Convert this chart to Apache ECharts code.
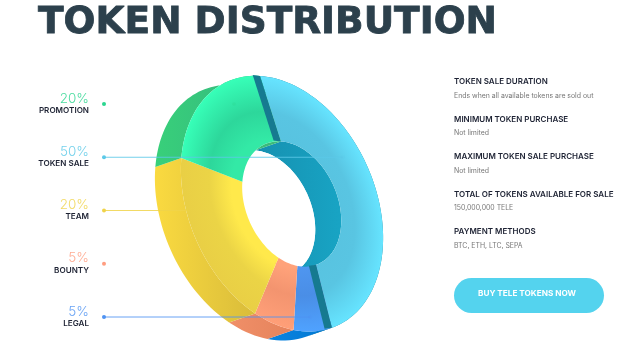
<!DOCTYPE html>
<html><head><meta charset="utf-8">
<style>html,body{margin:0;padding:0;background:#fff}#c{width:640px;height:358px}</style>
<script src="https://cdn.jsdelivr.net/npm/echarts@6/dist/echarts.min.js"></script>
</head><body><div id="c"></div>
<script>
const titleText = 'TOKEN DISTRIBUTION';
const categories = ['PROMOTION', 'TOKEN SALE', 'TEAM', 'BOUNTY', 'LEGAL'];
const percents = [20, 50, 20, 5, 5];
const legendColors = ['#2bd68f', '#5cc9e8', '#f0d34a', '#ff9d80', '#4f93f2'];
const sliceOrder = [1, 4, 3, 2, 0];
const infoTitles = ['TOKEN SALE DURATION', 'MINIMUM TOKEN PURCHASE', 'MAXIMUM TOKEN SALE PURCHASE', 'TOTAL OF TOKENS AVAILABLE FOR SALE', 'PAYMENT METHODS'];
const infoValues = ['Ends when all available tokens are sold out', 'Not limited', 'Not limited', '150,000,000 TELE', 'BTC, ETH, LTC, SEPA'];
const buttonText = 'BUY TELE TOKENS NOW';

/* projection of the tilted ring */
const C = [282, 203.7], H = [291.7, 204], RATIO = 0.49, DEPTH = [-26, 9];
const A1 = [-22, -127.7], A2 = [98.7, 6.5];
const WARP = [[0, 0], [180, 163], [198, 186], [216, 208], [288, 288], [360, 360]];
function warp(deg) {
  for (let i = 1; i < WARP.length; i++) {
    if (deg <= WARP[i][0]) {
      const p = WARP[i - 1], q = WARP[i];
      return p[1] + (deg - p[0]) / (q[0] - p[0]) * (q[1] - p[1]);
    }
  }
  return deg;
}
function outer(deg, d) {
  const t = warp(deg) * Math.PI / 180, c = Math.cos(t), s = Math.sin(t), o = d || [0, 0];
  return [C[0] + A1[0] * c + A2[0] * s + o[0], C[1] + A1[1] * c + A2[1] * s + o[1]];
}
function inner(deg, d) {
  const t = warp(deg) * Math.PI / 180, c = Math.cos(t), s = Math.sin(t), o = d || [0, 0];
  return [H[0] + RATIO * (A1[0] * c + A2[0] * s) + o[0], H[1] + RATIO * (A1[1] * c + A2[1] * s) + o[1]];
}
function arc(fn, a, b, d) {
  const pts = [], n = Math.max(4, Math.ceil(Math.abs(b - a) / 2));
  for (let i = 0; i <= n; i++) pts.push(fn(a + (b - a) * i / n, d));
  return pts;
}
/* eigen-frame of the outer ellipse, for elliptical shading */
const mxx = A1[0] * A1[0] + A2[0] * A2[0], myy = A1[1] * A1[1] + A2[1] * A2[1], mxy = A1[0] * A1[1] + A2[0] * A2[1];
const theta = 0.5 * Math.atan2(2 * mxy, mxx - myy);
const root = Math.sqrt((mxx - myy) * (mxx - myy) / 4 + mxy * mxy);
const semiA = Math.sqrt((mxx + myy) / 2 + root), semiB = Math.sqrt((mxx + myy) / 2 - root);
const cT = Math.cos(theta), sT = Math.sin(theta);
function toLocal(p) {
  const x = p[0] - C[0], y = p[1] - C[1];
  return [(x * cT + y * sT) / semiA, (-x * sT + y * cT) / semiB];
}
function stops(a, b, c) {
  return { type: 'radial', x: 0, y: 0, r: 1, global: true, colorStops: [
    { offset: 0, color: a }, { offset: 0.5, color: a }, { offset: 0.72, color: b }, { offset: 1, color: c }] };
}
const faceFill = {
  'TOKEN SALE': stops('#58c3e0', '#59c5e2', '#66e4ff'),
  'LEGAL': stops('#4f96f0', '#4a8ee6', '#4fa2ff'),
  'BOUNTY': stops('#ffa27a', '#f3946f', '#ff9f78'),
  'TEAM': stops('#ffe94b', '#ebd446', '#e9cf45'),
  'PROMOTION': stops('#33e9a6', '#2dd79b', '#37ffb8')
};
const sideFill = {
  'TOKEN SALE': ['#1a7d92', '#1a7d92'],
  'LEGAL': ['#0b84e2', '#0077d0'],
  'BOUNTY': ['#f08f68', '#e5835c'],
  'TEAM': ['#fada40', '#d9bc3a'],
  'PROMOTION': ['#38d07a', '#36b680']
};
const wallFill = {
  'TOKEN SALE': ['#1690b0', '#18a4c4'],
  'LEGAL': ['#18a4c4', '#18a4c4'],
  'BOUNTY': ['#18a4c4', '#18a4c4'],
  'TEAM': ['#d9bc3a', '#d9bc3a'],
  'PROMOTION': ['#3dbb7a', '#3dbb7a']
};
const BAND = '#167a90';

/* [start, end, category index] in degrees, clockwise from the top of the ring */
let acc = 0;
const sliceRows = sliceOrder.map(i => {
  const s = acc; acc += percents[i];
  return [s * 3.6, acc * 3.6, i];
});
const legendRows = categories.map((n, i) => [i]);

function linear(pair) {
  return { type: 'linear', x: 0, y: 0, x2: 1, y2: 0, colorStops: [{ offset: 0, color: pair[0] }, { offset: 1, color: pair[1] }] };
}
function renderSide(params, api) {
  const a = api.value(0), b = api.value(1), name = categories[api.value(2)];
  const pts = arc(outer, a, b).concat(arc(outer, b, a, DEPTH));
  return { type: 'polygon', shape: { points: pts }, style: { fill: linear(sideFill[name]) } };
}
function renderWall(params, api) {
  const a = api.value(0), b = api.value(1), name = categories[api.value(2)];
  const pts = arc(inner, a, b).concat(arc(inner, b, a, DEPTH));
  return { type: 'polygon', shape: { points: pts }, style: { fill: linear(wallFill[name]) } };
}
function renderHole(params, api) {
  return { type: 'polygon', shape: { points: arc(inner, 0, 360, DEPTH) }, style: { fill: '#ffffff' } };
}
function renderFace(params, api) {
  const a = api.value(0), b = api.value(1), name = categories[api.value(2)];
  const pts = arc(outer, a, b).concat(arc(inner, b, a)).map(toLocal);
  return { type: 'polygon', x: C[0], y: C[1], rotation: -theta, scaleX: semiA, scaleY: semiB,
    shape: { points: pts }, style: { fill: faceFill[name] } };
}
function renderBand(params, api) {
  const a = api.value(0), b = api.value(1);
  if (categories[api.value(2)] !== 'TOKEN SALE') return null;
  const topOff = [-7.3, -1], botOff = [-7.3, 1];
  return { type: 'group', children: [
    { type: 'polygon', shape: { points: [outer(a), inner(a), inner(a, topOff), outer(a, topOff)] }, style: { fill: BAND } },
    { type: 'polygon', shape: { points: [outer(b), inner(b), inner(b, botOff), outer(b, botOff)] }, style: { fill: BAND } }
  ] };
}
const LEADER_END = { 'TOKEN SALE': 343, 'TEAM': 187, 'LEGAL': 310, 'PROMOTION': 234, 'BOUNTY': 277 };
const HAS_LINE = { 'TOKEN SALE': 1, 'TEAM': 1, 'LEGAL': 1 };
function renderLegend(params, api) {
  const i = api.value(0), name = categories[i], col = legendColors[i];
  const y = 104 + i * 53.25;
  const kids = [];
  if (HAS_LINE[name]) {
    kids.push({ type: 'line', shape: { x1: 104, y1: y, x2: LEADER_END[name], y2: y }, style: { stroke: col, lineWidth: 1, opacity: 0.85 } });
  }
  kids.push({ type: 'circle', shape: { cx: LEADER_END[name], cy: y, r: 1.8 }, style: { fill: col, opacity: 0.3 } });
  kids.push({ type: 'circle', shape: { cx: 104, cy: y, r: 2 }, style: { fill: col } });
  kids.push({ type: 'text', style: { x: 89, y: y - 5.5, text: percents[i] + '%', align: 'right', verticalAlign: 'middle', fill: col, font: '300 13.5px Inter', opacity: 0.85 } });
  kids.push({ type: 'text', style: { x: 89, y: y + 6.5, text: name, align: 'right', verticalAlign: 'middle', fill: '#1d2233', font: '600 8.1px Inter' } });
  return { type: 'group', children: kids };
}
function series(fn, rows) {
  return { type: 'custom', coordinateSystem: 'none', silent: true, animation: false, renderItem: fn, data: rows };
}
const infoGraphics = [];
infoTitles.forEach((t, i) => {
  const y0 = 82 + i * 37.5;
  infoGraphics.push({ type: 'text', left: 454, top: y0 - 4, style: { text: t, fill: '#1d2233', font: '600 8px Inter' } });
  infoGraphics.push({ type: 'text', left: 454, top: y0 + 10, style: { text: infoValues[i], fill: '#777', font: '400 6.9px Inter' } });
});
infoGraphics.push({ type: 'rect', shape: { x: 454, y: 278, width: 150, height: 35, r: 17.5 }, style: { fill: '#54d3ee' } });
infoGraphics.push({ type: 'text', left: 478, top: 290, style: { text: buttonText, fill: '#fff', font: '700 8.2px Inter' } });

const chart = echarts.init(document.getElementById('c'), null, { renderer: 'canvas' });
chart.setOption({
  animation: false,
  backgroundColor: '#fff',
  title: { text: titleText, left: 38, top: 4, padding: 0, textStyle: { fontFamily: 'DejaVu Sans', fontWeight: 700, fontSize: 37.5, color: '#2c404c', textBorderColor: '#2c404c', textBorderWidth: 0.8 } },
  graphic: infoGraphics,
  series: [
    series(renderSide, sliceRows),
    series(renderWall, sliceRows),
    series(renderHole, [[0]]),
    series(renderFace, sliceRows),
    series(renderBand, sliceRows),
    series(renderLegend, legendRows)
  ]
});
</script></body></html>
